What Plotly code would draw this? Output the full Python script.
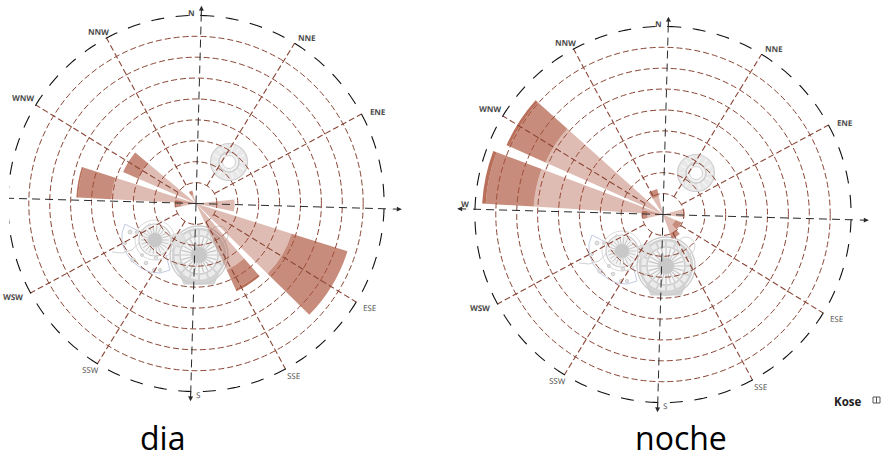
import numpy as np
import plotly.graph_objects as go

W, H = 881, 460

# ---- data (ring units, bearings in degrees) ----
DIA_THETA = [91.4, 119.4, 145.4, 267.5, 278.7, 300.1, 334.4]
DIA_WIDTH = [18, 27, 16.4, 20, 14.8, 16.7, 16]
DIA_LIGHT = [1.85, 4.8, 3.5, 0.7, 4.05, 3.0, 0.45]
DIA_MID = [0.0, 2.8, 1.0, 0.3, 1.6, 0.8, 0.2]
DIA_DARK = [0.0, 0.0, 0.12, 0.0, 0.08, 0.0, 0.0]

NOCHE_THETA = [85, 124.4, 148, 267.5, 280.4, 301.3, 335.5]
NOCHE_WIDTH = [23, 25, 21, 24, 17, 18, 20]
NOCHE_LIGHT = [1.05, 0.65, 0.95, 0.75, 6.2, 6.15, 0.9]
NOCHE_MID = [0.0, 0.32, 0.28, 0.25, 2.3, 1.9, 0.35]
NOCHE_DARK = [0.0, 0.0, 0.0, 0.0, 0.17, 0.14, 0.0]

RINGS = [1, 2, 3, 4, 5, 6, 7, 8]
OUTER = 9
SPOKES = [30, 60, 120, 150, 210, 240, 300, 330]
CARDINALS = [0, 90, 180, 270]
ARROW_R = [9.47, 9.85, 9.47, 9.85]

LABELS = ["N", "NNE", "ENE", "ESE", "SSE", "S", "SSW", "WSW", "W", "WNW", "NNW"]
LABEL_R = [9.12, 9.53, 9.77, 9.65, 9.45, 9.12, 9.38, 9.83, 9.49, 9.7, 9.43]
LABEL_T = [356.9, 32.2, 61.5, 119.3, 148.7, 177.8, 210.8, 241.4, 271.7, 299.8, 328.9]

LIGHT = "rgba(170,80,55,0.38)"
MID = "rgba(170,80,55,0.66)"
DARK = "rgba(170,80,55,0.82)"
RUST = "#8a4535"
INK = "#2a2a2a"
TILT = 1.6
PX_PER_UNIT = 20.9
RMAX = 9.35
CENTERS = {"polar": (196, 203.5), "polar2": (663, 214.5)}

fig = go.Figure()
annotations = []


def px(x):
    return x / W


def py(y):
    return 1 - y / H


def to_paper(sub, r, theta):
    cx, cy = CENTERS[sub]
    a = np.radians(theta + TILT)
    d = r * PX_PER_UNIT
    return cx + d * np.sin(a), cy - d * np.cos(a)


def add_rose(sub, theta, width, light, mid, dark):
    ring_t = np.arange(0, 361, 1.0)
    spoke_r, spoke_t = [], []
    for s in SPOKES:
        spoke_r += [RINGS[0], OUTER, None]
        spoke_t += [s, s, None]
    fig.add_trace(go.Scatterpolar(subplot=sub, r=spoke_r, theta=spoke_t, mode="lines",
                                  line=dict(color=RUST, width=1.1, dash="6px,3px"),
                                  hoverinfo="skip", showlegend=False))
    for vals, col in ((light, LIGHT), (mid, MID), (dark, DARK)):
        fig.add_trace(go.Barpolar(subplot=sub, r=vals, theta=theta, width=width,
                                  marker=dict(color=col, line=dict(width=0)),
                                  hoverinfo="skip", showlegend=False))
    fig.add_trace(go.Scatterpolar(subplot=sub, r=[OUTER] * len(ring_t), theta=ring_t, mode="lines",
                                  line=dict(color="#111111", width=1.1, dash="13px,11.6px"),
                                  hoverinfo="skip", showlegend=False))
    for c, tip in zip(CARDINALS, ARROW_R):
        fig.add_trace(go.Scatterpolar(subplot=sub, r=[0, RMAX], theta=[c, c], mode="lines",
                                      line=dict(color=INK, width=1, dash="8px,5px"),
                                      hoverinfo="skip", showlegend=False))
        if sub == "polar" and c == 270:
            continue
        hx, hy = to_paper(sub, tip, c)
        tx, ty = to_paper(sub, tip - 0.5, c)
        annotations.append(dict(x=px(hx), y=py(hy), ax=tx - hx, ay=ty - hy, xref="paper", yref="paper",
                                axref="pixel", ayref="pixel", text="", showarrow=True, arrowhead=2,
                                arrowsize=0.9, arrowwidth=1.1, arrowcolor=INK))
    for lab, r, t in zip(LABELS, LABEL_R, LABEL_T):
        if sub == "polar" and lab == "W":
            continue
        lx, ly = to_paper(sub, r, t)
        top = lab in ("N", "NNE", "ENE", "NNW", "WNW", "W", "WSW")
        annotations.append(dict(text=lab, x=px(lx), y=py(ly), xref="paper", yref="paper", showarrow=False,
                                xanchor="center", yanchor="middle", textangle=TILT,
                                font=dict(family="Open Sans", size=8, color="#4a4a4a",
                                          weight="bold" if top else "normal")))


add_rose("polar", DIA_THETA, DIA_WIDTH, DIA_LIGHT, DIA_MID, DIA_DARK)
add_rose("polar2", NOCHE_THETA, NOCHE_WIDTH, NOCHE_LIGHT, NOCHE_MID, NOCHE_DARK)


def polar_layout(sub):
    cx, cy = CENTERS[sub]
    rad = RMAX * PX_PER_UNIT
    return dict(
        domain=dict(x=[(cx - rad) / W, (cx + rad) / W], y=[1 - (cy + rad) / H, 1 - (cy - rad) / H]),
        bgcolor="rgba(0,0,0,0)",
        radialaxis=dict(range=[0, RMAX], tickvals=RINGS, showticklabels=False, ticks="", showline=False,
                        gridcolor=RUST, griddash="6px,3px", gridwidth=1.1),
        angularaxis=dict(rotation=90 - TILT, direction="clockwise", showticklabels=False, ticks="",
                         showline=False, showgrid=False),
    )


# ---- decorative gear drawings (background artwork, pixel geometry) ----
shapes = []


def circle(cx, cy, r, fill="rgba(0,0,0,0)", line="#c9c9c9", lw=1.0, layer="below"):
    shapes.append(dict(type="circle", xref="paper", yref="paper", layer=layer,
                       x0=px(cx - r), x1=px(cx + r), y0=py(cy + r), y1=py(cy - r),
                       fillcolor=fill, line=dict(color=line, width=lw)))


def path(d, fill="rgba(0,0,0,0)", line="#c9c9c9", lw=1.0, layer="below"):
    shapes.append(dict(type="path", xref="paper", yref="paper", layer=layer, path=d,
                       fillcolor=fill, line=dict(color=line, width=lw)))


def poly(pts, close=False):
    s = "M " + " L ".join(f"{px(x):.5f},{py(y):.5f}" for x, y in pts)
    return s + (" Z" if close else "")


def radial(cx, cy, r0, r1, n):
    parts = []
    for a in np.linspace(0, 2 * np.pi, n, endpoint=False):
        parts.append(poly([(cx + r0 * np.cos(a), cy + r0 * np.sin(a)),
                           (cx + r1 * np.cos(a), cy + r1 * np.sin(a))]))
    return " ".join(parts)


def gears(ox, oy):
    # small disc
    circle(229 + ox, 162 + oy, 18.5, fill="#e8e8e8", line="#cfcfcf", lw=1.2)
    path(radial(229 + ox, 162 + oy, 9, 17, 14), line="#f6f6f6", lw=1.2)
    circle(229 + ox, 162 + oy, 10, fill="#f2f2f2", line="#cccccc", lw=1.4)
    circle(229 + ox, 162 + oy, 6.5, fill="#ffffff", line="#d0d0d0", lw=1)
    # blue outline + side gray arc
    blue = [(125, 224), (122, 233), (122, 243), (126, 253), (133, 262), (141, 268), (150, 272),
            (160, 273), (170, 270), (166, 255)]
    path(poly([(x + ox, y + oy) for x, y in blue]), line="#c3cbe4", lw=1)
    path(poly([(125 + ox, 224 + oy), (140 + ox, 232 + oy)]), line="#c3cbe4", lw=1)
    arc = [(112, 252), (122, 253), (132, 250), (139, 243), (143, 233), (150, 223)]
    path(poly([(x + ox, y + oy) for x, y in arc]), line="#d2d2d2", lw=1)
    for cx, cy, r in ((133, 260, 2.2), (146, 263, 1.8), (154, 270, 1.6), (160, 270, 1.6), (156, 258, 1.8),
                      (142, 255, 1.5), (125, 243, 1.5), (130, 232, 2), (137, 232, 1.6)):
        circle(cx + ox, cy + oy, r, fill="#e2e2e2", line="#c4c4c4", lw=0.8)
    # medium gear
    circle(155 + ox, 240 + oy, 16, fill="#f4f4f4", line="#cacaca", lw=1.2)
    circle(155 + ox, 240 + oy, 20, line="#dadada", lw=1)
    path(radial(155 + ox, 240 + oy, 6, 14, 22), line="#c6c6c6", lw=1)
    circle(155 + ox, 240 + oy, 7, fill="#c8c8c8", line="#c8c8c8", lw=0.5)
    # large gear
    path(poly([(178 + ox, 270 + oy), (220 + ox, 270 + oy), (214 + ox, 284 + oy), (184 + ox, 284 + oy)], True),
         fill="#d6d6d6", line="#cecece")
    circle(199 + ox, 255 + oy, 29, line="#cccccc", lw=1.4)
    circle(199 + ox, 255 + oy, 26, fill="#ececec", line="#d2d2d2", lw=2.5)
    circle(199 + ox, 255 + oy, 19, fill="#f6f6f6", line="#cccccc", lw=1.5)
    path(radial(199 + ox, 255 + oy, 8, 18, 24), line="#c8c8c8", lw=1.2)
    path(radial(199 + ox, 255 + oy, 20, 27, 16), line="#d2d2d2", lw=2)
    circle(199 + ox, 255 + oy, 8, fill="#c8c8c8", line="#c8c8c8", lw=0.5)
    circle(219 + ox, 235 + oy, 9, line="#d6d6d6", lw=1)
    path(poly([(170 + ox, 236 + oy), (181 + ox, 232 + oy), (186 + ox, 240 + oy), (174 + ox, 248 + oy)], True),
         fill="#e0e0e0", line="#d6d6d6")


gears(0, 0)
gears(467, 11)

# clipped left border of the first panel
shapes.append(dict(type="rect", xref="paper", yref="paper", layer="above", x0=0, x1=px(9), y0=0, y1=1,
                   fillcolor="white", line=dict(width=0)))
# small book icon beside the credit
shapes.append(dict(type="rect", xref="paper", yref="paper", layer="above", x0=px(873), x1=px(880),
                   y0=py(403), y1=py(397), fillcolor="white", line=dict(color="#555555", width=1)))
shapes.append(dict(type="line", xref="paper", yref="paper", layer="above", x0=px(876.5), x1=px(876.5),
                   y0=py(403), y1=py(397), line=dict(color="#555555", width=1)))

annotations += [
    dict(text="dia", x=px(162), y=py(437), showarrow=False, xref="paper", yref="paper",
         xanchor="center", yanchor="middle", font=dict(family="Open Sans", size=32, color="#000000")),
    dict(text="noche", x=px(681), y=py(437), showarrow=False, xref="paper", yref="paper",
         xanchor="center", yanchor="middle", font=dict(family="Open Sans", size=32, color="#000000")),
    dict(text="<b>Kose</b>", x=px(847), y=py(401), showarrow=False, xref="paper", yref="paper",
         xanchor="center", yanchor="middle", font=dict(family="Open Sans", size=11.5, color="#222222")),
]

fig.update_layout(
    width=W, height=H, autosize=False,
    margin=dict(l=0, r=0, t=0, b=0),
    paper_bgcolor="white",
    showlegend=False,
    polar=polar_layout("polar"),
    polar2=polar_layout("polar2"),
    shapes=shapes,
    annotations=annotations,
)

fig.write_html("out.html", config=dict(displayModeBar=False),
               post_script="document.body.style.margin='0';")
